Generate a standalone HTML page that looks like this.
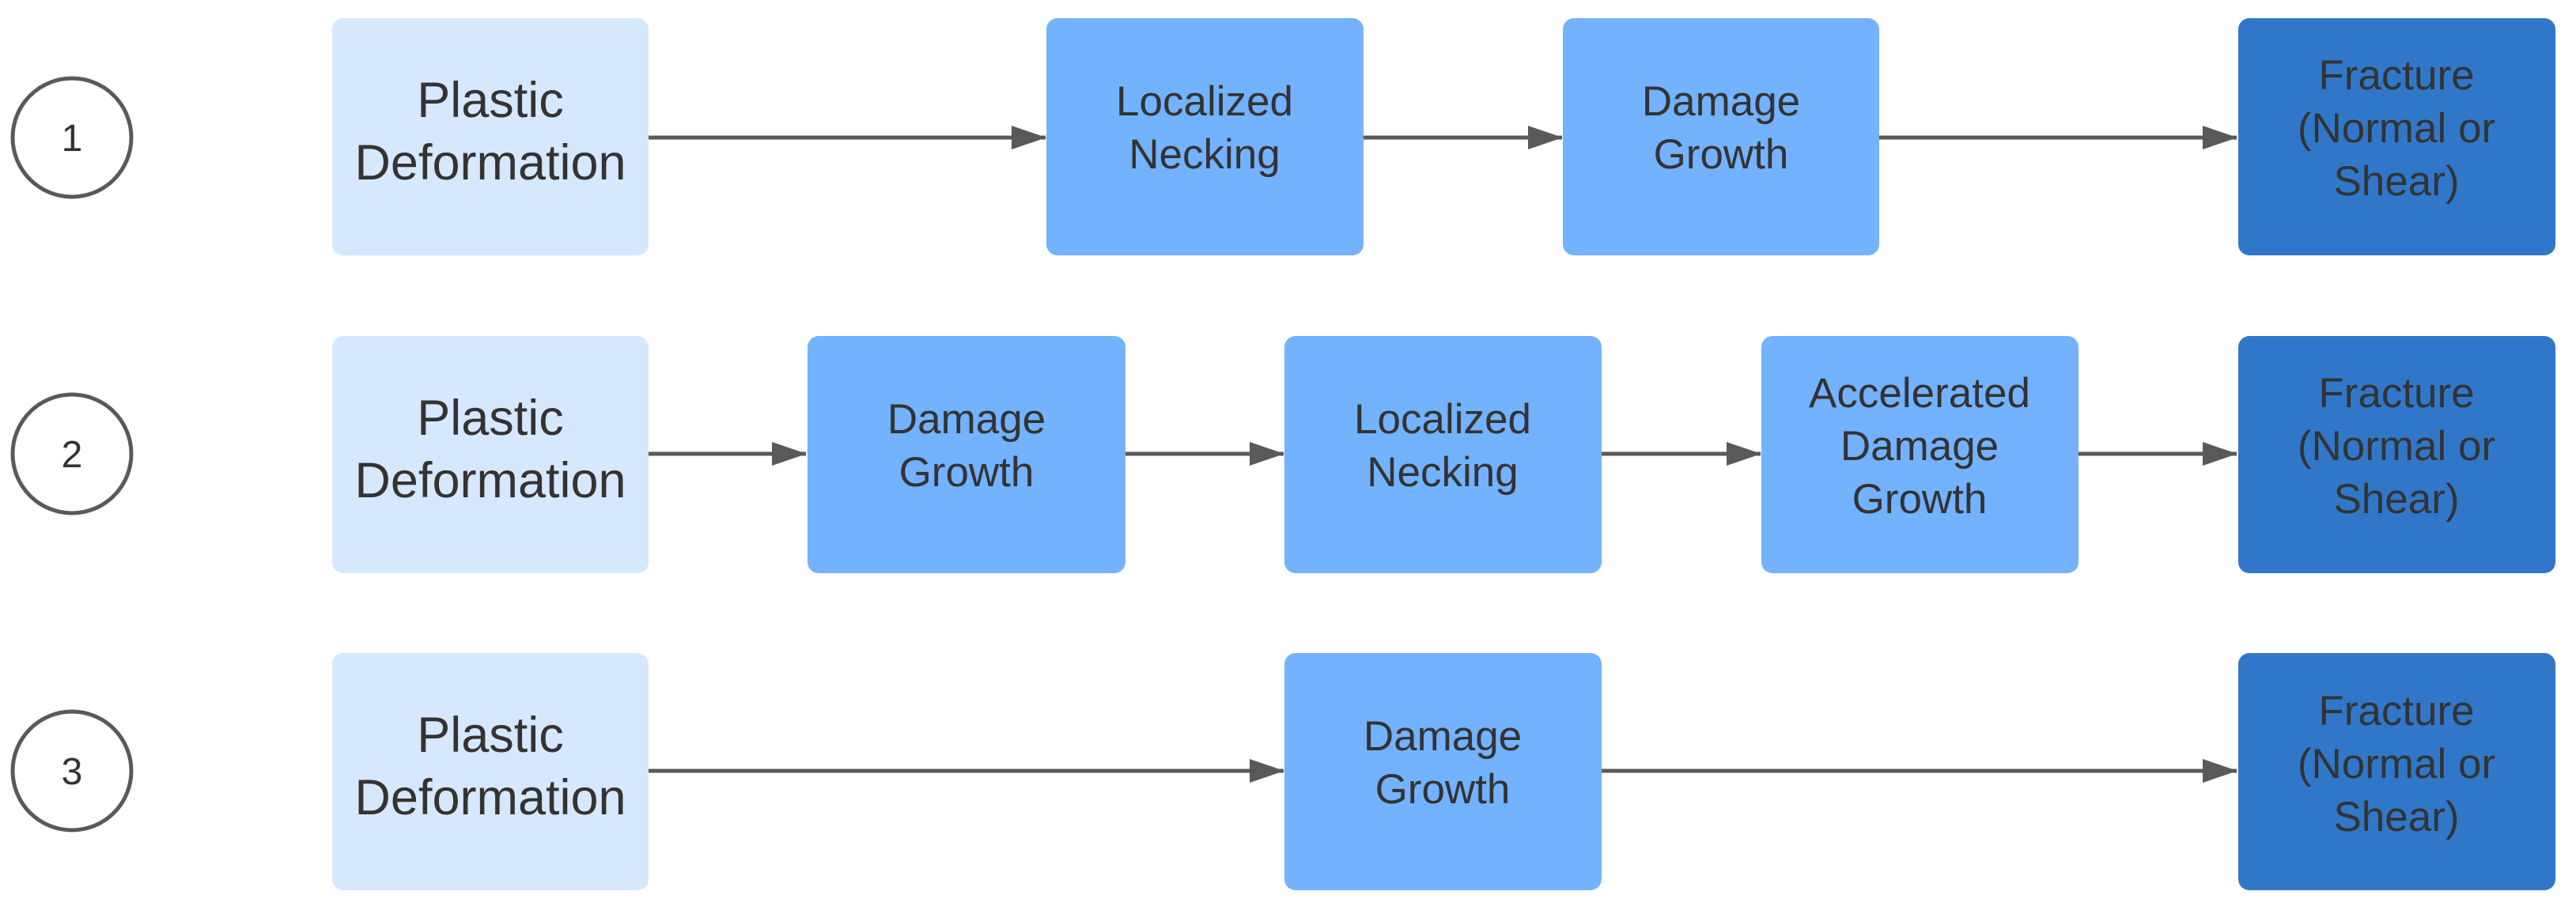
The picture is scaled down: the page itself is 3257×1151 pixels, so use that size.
<!DOCTYPE html>
<html><head><meta charset="utf-8"><style>
html,body{margin:0;padding:0;background:#fff;}
svg{display:block;}
text{font-family:"Liberation Sans",Arial,sans-serif;fill:#333;text-anchor:middle;}
</style></head><body>
<svg width="3257" height="1151" viewBox="0 0 3257 1151" xmlns="http://www.w3.org/2000/svg">
<defs>
<marker id="ah" markerWidth="44" markerHeight="30" refX="43" refY="15" orient="auto" markerUnits="userSpaceOnUse">
<path d="M0,0 L44,15 L0,30 Z" fill="#595959"/>
</marker>
</defs>
<g fill="none" stroke="#595959" stroke-width="5">
<circle cx="91" cy="174" r="75"/>
<circle cx="91" cy="574" r="75"/>
<circle cx="91" cy="975" r="75"/>
</g>
<g font-size="48">
<text x="91" y="191">1</text>
<text x="91" y="591">2</text>
<text x="91" y="992">3</text>
</g>
<g stroke="#595959" stroke-width="5" marker-end="url(#ah)">
<line x1="820" y1="174" x2="1322" y2="174"/>
<line x1="1724" y1="174" x2="1975" y2="174"/>
<line x1="2376" y1="174" x2="2828" y2="174"/>
<line x1="820" y1="574" x2="1019" y2="574"/>
<line x1="1423" y1="574" x2="1623" y2="574"/>
<line x1="2025" y1="574" x2="2226" y2="574"/>
<line x1="2628" y1="574" x2="2828" y2="574"/>
<line x1="820" y1="975" x2="1623" y2="975"/>
<line x1="2025" y1="975" x2="2828" y2="975"/>
</g>
<!-- row 1 -->
<rect x="420" y="23" width="400" height="300" rx="14" fill="#d6e8fe"/>
<rect x="1323" y="23" width="401" height="300" rx="14" fill="#73b2fe"/>
<rect x="1976" y="23" width="400" height="300" rx="14" fill="#73b2fe"/>
<rect x="2830" y="23" width="401" height="300" rx="14" fill="#3177c9"/>
<!-- row 2 -->
<rect x="420" y="425" width="400" height="300" rx="14" fill="#d6e8fe"/>
<rect x="1021" y="425" width="402" height="300" rx="14" fill="#73b2fe"/>
<rect x="1624" y="425" width="401" height="300" rx="14" fill="#73b2fe"/>
<rect x="2227" y="425" width="401" height="300" rx="14" fill="#73b2fe"/>
<rect x="2830" y="425" width="401" height="300" rx="14" fill="#3177c9"/>
<!-- row 3 -->
<rect x="420" y="826" width="400" height="300" rx="14" fill="#d6e8fe"/>
<rect x="1624" y="826" width="401" height="300" rx="14" fill="#73b2fe"/>
<rect x="2830" y="826" width="401" height="300" rx="14" fill="#3177c9"/>

<g font-size="63">
<text x="620" y="148">Plastic</text><text x="620" y="227">Deformation</text>
<text x="620" y="550">Plastic</text><text x="620" y="629">Deformation</text>
<text x="620" y="951">Plastic</text><text x="620" y="1030">Deformation</text>
</g>
<g font-size="53">
<text x="1523" y="146">Localized</text><text x="1523" y="213">Necking</text>
<text x="2176" y="146">Damage</text><text x="2176" y="213">Growth</text>
<text x="3030" y="113">Fracture</text><text x="3030" y="180">(Normal or</text><text x="3030" y="247">Shear)</text>

<text x="1222" y="548">Damage</text><text x="1222" y="615">Growth</text>
<text x="1824" y="548">Localized</text><text x="1824" y="615">Necking</text>
<text x="2427" y="515">Accelerated</text><text x="2427" y="582">Damage</text><text x="2427" y="649">Growth</text>
<text x="3030" y="515">Fracture</text><text x="3030" y="582">(Normal or</text><text x="3030" y="649">Shear)</text>

<text x="1824" y="949">Damage</text><text x="1824" y="1016">Growth</text>
<text x="3030" y="917">Fracture</text><text x="3030" y="984">(Normal or</text><text x="3030" y="1051">Shear)</text>
</g>
</svg>
</body></html>
